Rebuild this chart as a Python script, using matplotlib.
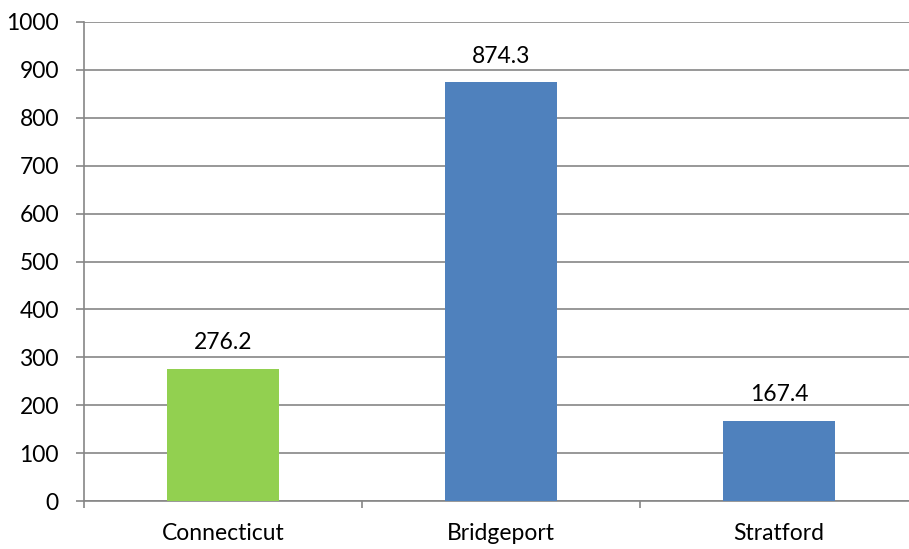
import matplotlib.pyplot as plt
import numpy as np

categories = ["Connecticut", "Bridgeport", "Stratford"]
values = [276.2, 874.3, 167.4]
colors = ["#92D050", "#4F81BD", "#4F81BD"]
yticks = [0, 100, 200, 300, 400, 500, 600, 700, 800, 900, 1000]

plt.rcParams['font.family'] = ['Lato', 'DejaVu Sans']

fig = plt.figure(figsize=(9.09, 5.49), dpi=100)
# axes runs slightly past the right edge, like the original crop
ax = fig.add_axes([84 / 909, 48 / 549, (918 - 84) / 909, (501 - 22) / 549])

x = np.arange(len(categories))
bars = ax.bar(x, values, width=0.4, color=colors, zorder=3)

for xi, v in zip(x, values):
    ax.annotate(f"{v:.1f}", (xi, v), xytext=(0, 14), textcoords='offset points',
                ha='center', va='baseline', fontsize=16.5)

ax.set_xlim(-0.5, 2.5)
ax.set_ylim(0, 1000)
ax.set_yticks(yticks)
ax.set_yticklabels([str(t) for t in yticks], fontsize=16.5)
ax.yaxis.grid(True, color='#868686', linewidth=1.2, zorder=0)

# category labels centred, tick marks between categories
ax.set_xticks(x)
ax.set_xticklabels(categories, fontsize=16.5)
ax.tick_params(axis='x', length=0, pad=16)
ax.set_xticks([-0.5, 0.5, 1.5, 2.5], minor=True)
ax.tick_params(axis='x', which='minor', length=5, color='#868686', width=1.2)
ax.tick_params(axis='y', length=6, color='#868686', width=1.2, pad=12)

for side in ['top', 'right']:
    ax.spines[side].set_visible(False)
for side in ['left', 'bottom']:
    ax.spines[side].set_color('#868686')
    ax.spines[side].set_linewidth(1.2)

fig.savefig("out.png", dpi=100)
